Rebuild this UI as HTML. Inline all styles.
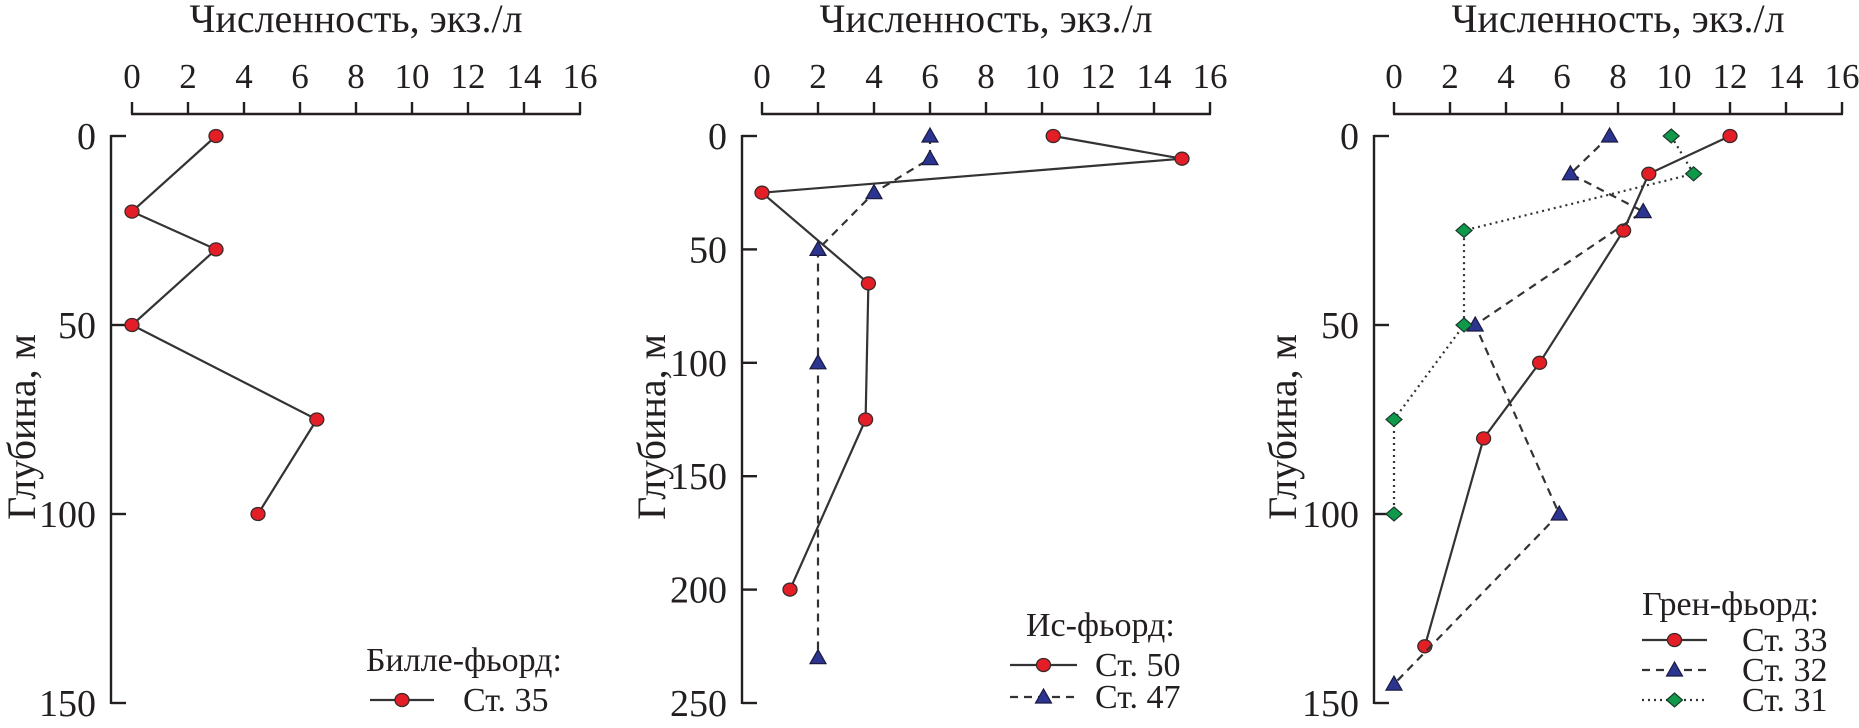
<!DOCTYPE html>
<html><head><meta charset="utf-8">
<style>
html,body{margin:0;padding:0;background:#fff;}
svg{display:block;}
svg text{font-family:"Times New Roman","Liberation Serif",Times,"DejaVu Serif","Noto Serif CJK SC",serif;}
</style></head>
<body>
<svg id="chart" width="1859" height="728" viewBox="0 0 1859 728" xmlns="http://www.w3.org/2000/svg"></svg>
<script>
// ---- data ----
const xTicks = [0,2,4,6,8,10,12,14,16];
const p1DepthTicks = [0,50,100,150];
const p2DepthTicks = [0,50,100,150,200,250];
const p3DepthTicks = [0,50,100,150];

const st35Depth = [0,20,30,50,75,100];
const st35Value = [3,0,3,0,6.6,4.5];

const st50Depth = [0,10,25,65,125,200];
const st50Value = [10.4,15,0,3.8,3.7,1];
const st47Depth = [0,10,25,50,100,230];
const st47Value = [6,6,4,2,2,2];

const st33Depth = [0,10,25,60,80,135];
const st33Value = [12,9.1,8.2,5.2,3.2,1.1];
const st32Depth = [0,10,20,50,100,145];
const st32Value = [7.7,6.3,8.9,2.9,5.9,0];
const st31Depth = [0,10,25,50,75,100];
const st31Value = [9.9,10.7,2.5,2.5,0,0];

const legend1Title = "Билле-фьорд:";
const legend2Title = "Ис-фьорд:";
const legend3Title = "Грен-фьорд:";

// ---- helpers ----
const NS = "http://www.w3.org/2000/svg";
const svg = document.getElementById('chart');
function mk(tag, attrs, parent){
  const e = document.createElementNS(NS, tag);
  for (const k in attrs) e.setAttribute(k, attrs[k]);
  (parent||svg).appendChild(e);
  return e;
}
const LINE = "#333";
const STYLES = {
  circle:{fill:"#e41e26", dash:null},
  tri:{fill:"#2b3590", dash:"8,6"},
  diamond:{fill:"#0f9a4b", dash:"2,4"}
};

function marker(g, type, x, y){
  let m;
  if (type==='circle'){
    m = mk('ellipse',{cx:x,cy:y,rx:7,ry:6.5,fill:STYLES.circle.fill,stroke:"#3a2a2a","stroke-width":1.3},g);
  } else if (type==='tri'){
    m = mk('polygon',{points:`${x},${y-8} ${x-8},${y+6} ${x+8},${y+6}`,fill:STYLES.tri.fill,stroke:"#1a1a40","stroke-width":1.2},g);
  } else {
    m = mk('polygon',{points:`${x},${y-7} ${x+8},${y} ${x},${y+7} ${x-8},${y}`,fill:STYLES.diamond.fill,stroke:"#1a3a2a","stroke-width":1.2},g);
  }
  return m;
}

function panel(id, x0, yAxisX, depthMax, depthTicks, yLabelX){
  const xs = v => x0 + v*28;
  const ys = d => 136 + d*(567/depthMax);
  const g = mk('g',{});
  
  
  const t = mk('text',{x:x0+224,y:32,"font-size":40,"text-anchor":"middle",fill:"#231f20"},g);
  t.textContent = "Численность, экз./л";
  
  
  const xa = mk('g',{},g);
  
  
  mk('line',{x1:xs(0)-1,y1:114,x2:xs(16)+1,y2:114,stroke:"#231f20","stroke-width":2.4},xa);
  xTicks.forEach(v=>{
    mk('line',{x1:xs(v),y1:102,x2:xs(v),y2:114,stroke:"#231f20","stroke-width":2.4},xa);
    const l = mk('text',{x:xs(v),y:88,"font-size":35,"text-anchor":"middle",fill:"#231f20"},xa);
    l.textContent = v;
    
    
  });
  const ya = mk('g',{},g);
  
  
  mk('line',{x1:yAxisX,y1:ys(0)-1,x2:yAxisX,y2:ys(depthMax)+1,stroke:"#231f20","stroke-width":2.4},ya);
  depthTicks.forEach(d=>{
    mk('line',{x1:yAxisX,y1:ys(d),x2:yAxisX+15,y2:ys(d),stroke:"#231f20","stroke-width":2.4},ya);
    const l = mk('text',{x:yAxisX-15,y:ys(d)+13,"font-size":38,"text-anchor":"end",fill:"#231f20"},ya);
    l.textContent = d;
    
    
  });
  const yl = mk('text',{x:0,y:0,"font-size":40,"text-anchor":"middle",fill:"#231f20",transform:`translate(${yLabelX+13},427) rotate(-90)`},g);
  yl.textContent = "Глубина, м";
  
  
  return {g, xs, ys};
}

function series(P, name, type, vals, depths){
  const g = mk('g',{},P.g);
  
  
  const pts = vals.map((v,i)=>`${P.xs(v)},${P.ys(depths[i])}`).join(' ');
  const pl = mk('polyline',{points:pts,fill:"none",stroke:LINE,"stroke-width":2.2},g);
  if (STYLES[type].dash) pl.setAttribute('stroke-dasharray', STYLES[type].dash);
  vals.forEach((v,i)=>{
    const m = marker(g, type, P.xs(v), P.ys(depths[i]));
    
    
  });
}

function legend(parent, titleText, titleX, titleY, entries){
  const g = mk('g',{},parent);
  
  
  const t = mk('text',{x:titleX,y:titleY+11,"font-size":34,fill:"#231f20"},g);
  t.textContent = titleText;
  
  
  entries.forEach(e=>{
    const eg = mk('g',{},g);
    
    
    const ln = mk('line',{x1:e.x1,y1:e.y,x2:e.x2,y2:e.y,stroke:LINE,"stroke-width":2.2},eg);
    if (STYLES[e.type].dash) ln.setAttribute('stroke-dasharray', STYLES[e.type].dash);
    marker(eg, e.type, (e.x1+e.x2)/2, e.y);
    const lt = mk('text',{x:e.tx,y:e.y+11,"font-size":34,fill:"#231f20"},eg);
    lt.textContent = e.label;
  });
}

const P1 = panel('panel-bille-fjord', 132, 111, 150, p1DepthTicks, 22);
series(P1, 'series-st35', 'circle', st35Value, st35Depth);
legend(P1.g, legend1Title, 366, 660, [{type:'circle',x1:370,x2:434,y:700,tx:463,label:"Ст. 35"}]);

const P2 = panel('panel-is-fjord', 762, 742, 250, p2DepthTicks, 652);
series(P2, 'series-st50', 'circle', st50Value, st50Depth);
series(P2, 'series-st47', 'tri', st47Value, st47Depth);
legend(P2.g, legend2Title, 1026, 625, [
  {type:'circle',x1:1010,x2:1077,y:665,tx:1095,label:"Ст. 50"},
  {type:'tri',x1:1010,x2:1077,y:697,tx:1095,label:"Ст. 47"}]);

const P3 = panel('panel-gren-fjord', 1394, 1374, 150, p3DepthTicks, 1283);
series(P3, 'series-st33', 'circle', st33Value, st33Depth);
series(P3, 'series-st32', 'tri', st32Value, st32Depth);
series(P3, 'series-st31', 'diamond', st31Value, st31Depth);
legend(P3.g, legend3Title, 1642, 604, [
  {type:'circle',x1:1642,x2:1707,y:640,tx:1742,label:"Ст. 33"},
  {type:'tri',x1:1642,x2:1707,y:670,tx:1742,label:"Ст. 32"},
  {type:'diamond',x1:1642,x2:1707,y:700,tx:1742,label:"Ст. 31"}]);
</script>
</body></html>
